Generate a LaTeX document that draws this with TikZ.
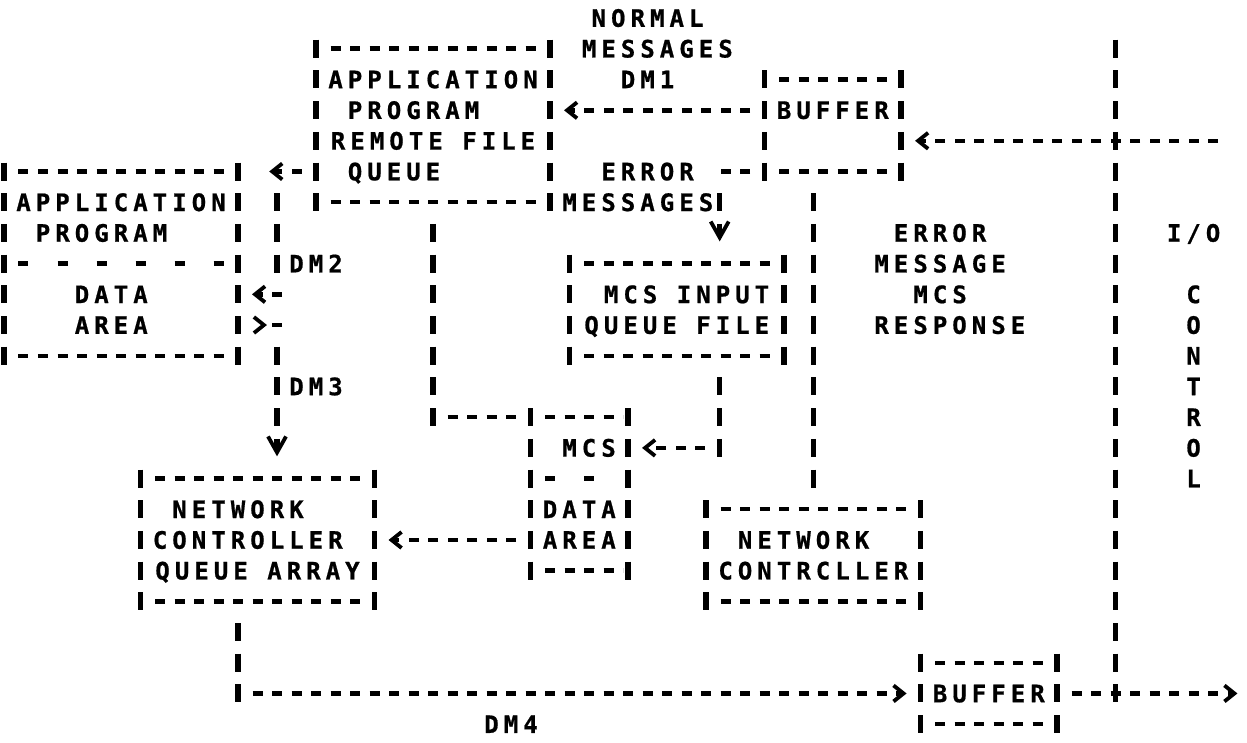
\documentclass[tikz,border=0pt]{standalone}
\usepackage{fontspec}
\usepackage{tikz}
\usetikzlibrary{arrows.meta,calc,fit}
\newfontfamily\lpfont[LetterSpace=21,BoldFeatures={FakeBold=0.8}]{DejaVu Sans Mono}
\tikzset{
  ltip/.tip={Straight Barb[length=5pt,width=8pt,line width=1.9pt]},
  vtip/.tip={Straight Barb[length=8pt,width=9pt,line width=1.9pt]},
  hline/.style={draw,line width=2.2pt,dash pattern=on 5pt off 4.75pt,dash phase=5pt,shorten <=2.5pt,shorten >=2.5pt},
  vline/.style={draw,line width=2.6pt,dash pattern=on 9pt off 6.35pt,shorten <=-4.5pt,shorten >=-4.5pt},
  vconn/.style={draw,line width=2.6pt,dash pattern=on 9pt off 6.35pt,dash phase=12.175pt,shorten <=7.675pt,shorten >=7.675pt},
  sepline/.style={draw,line width=2.2pt,dash pattern=on 5pt off 14.5pt,dash phase=12.25pt,shorten >=5pt},
  box/.style={inner sep=0pt,outer sep=0pt,append after command={
      (\tikzlastnode.north west) edge[hline] (\tikzlastnode.north east)
      (\tikzlastnode.south west) edge[hline] (\tikzlastnode.south east)
      (\tikzlastnode.north west) edge[vline] (\tikzlastnode.south west)
      (\tikzlastnode.north east) edge[vline] (\tikzlastnode.south east)}},
  lbl/.style={font=\lpfont\bfseries\fontsize{12pt}{13pt}\selectfont,inner sep=0pt,anchor=base,yshift=-4.4pt}
}
\begin{document}
\begin{tikzpicture}[x=9.75pt,y=-15.35pt]
\useasboundingbox (-0.205,-0.586) rectangle (63.74,23.583);
\node[box,fit={(16,1) (28,6)}] (appbox) {};
\node[box,fit={(0,5) (12,11)}] (leftbox) {};
\node[box,fit={(39,2) (46,5)}] (bufup) {};
\node[box,fit={(29,8) (40,11)}] (mcsin) {};
\node[box,fit={(27,13) (32,18)}] (mcsbox) {};
\node[box,fit={(7,15) (19,19)}] (ncq) {};
\node[box,fit={(36,16) (47,19)}] (ncbox) {};
\node[box,fit={(47,21) (54,23)}] (buflo) {};
\draw[sepline] ($(leftbox.north west)+(0,3)$) -- ($(leftbox.north east)+(0,3)$);
\draw[sepline] ($(mcsbox.north west)+(0,2)$) -- ($(mcsbox.north east)+(0,2)$);

\node[lbl] (apptxt1) at (22,2) {APPLICATION};
\node[lbl] (apptxt2) at (21,3) {PROGRAM};
\node[lbl] (apptxt3) at (22,4) {REMOTE FILE};
\node[lbl] (apptxt4) at (20,5) {QUEUE};
\node[lbl] (lefttxt1) at (6,6) {APPLICATION};
\node[lbl] (lefttxt2) at (5,7) {PROGRAM};
\node[lbl] (lefttxt3) at (5.5,9) {DATA};
\node[lbl] (lefttxt4) at (5.5,10) {AREA};
\node[lbl] (bufuptxt) at (42.5,3) {BUFFER};
\node[lbl] (mcsintxt1) at (35,9) {MCS INPUT};
\node[lbl] (mcsintxt2) at (34.5,10) {QUEUE FILE};
\node[lbl] (mcstxt) at (30,14) {MCS};
\node[lbl] (mcsdata) at (29.5,16) {DATA};
\node[lbl] (mcsarea) at (29.5,17) {AREA};
\node[lbl] (ncqtxt1) at (12,16) {NETWORK};
\node[lbl] (ncqtxt2) at (12.5,17) {CONTROLLER};
\node[lbl] (ncqtxt3) at (13,18) {QUEUE ARRAY};
\node[lbl] (nctxt1) at (41,17) {NETWORK};
\node[lbl] (nctxt2) at (41.5,18) {CONTRCLLER};
\node[lbl] (buflotxt) at (50.5,22) {BUFFER};

\node[lbl] (normal1) at (33,0) {NORMAL};
\node[lbl] (normal2) at (33.5,1) {MESSAGES};
\node[lbl] (dm1) at (33,2) {DM1};
\node[lbl] (error1) at (33,5) {ERROR};
\node[lbl] (error2) at (32.5,6) {MESSAGES};
\node[lbl] (dm2) at (16,8) {DM2};
\node[lbl] (dm3) at (16,12) {DM3};
\node[lbl] (dm4) at (26,23) {DM4};
\node[lbl] (resp1) at (48,7) {ERROR};
\node[lbl] (resp2) at (48,8) {MESSAGE};
\node[lbl] (resp3) at (48,9) {MCS};
\node[lbl] (resp4) at (48.5,10) {RESPONSE};
\node[lbl] (io) at (61,7) {I/O};
\foreach \ch [count=\i from 9] in {C,O,N,T,R,O,L}
  \node[lbl] (ctl\i) at (61,\i) {\ch};

\coordinate (dmtop) at (14,5);
\coordinate (dm2tip) at (13.6,5);
\coordinate (dm2in) at (14,9);
\coordinate (dm3out) at (14,10);
\coordinate (errturn) at (36.7,5);
\coordinate (ioin) at (63,4);
\coordinate (ioout) at (63.25,22);
\coordinate (iotop) at (57,1);
\coordinate (iobot) at (57,22);
\coordinate (dm4top) at ($(ncq.south west)!5/12!(ncq.south east)$);

\draw[vline] (iotop) -- (iobot);
\draw[hline,-{ltip},shorten >=7pt] (bufup.west |- bufuptxt) -- (bufuptxt -| appbox.east);
\draw[hline,-{ltip},shorten >=7pt] (ioin) -- (ioin -| bufup.east);
\draw[hline,shorten >=0pt] (bufup.south west) -- (errturn);
\draw[vconn,-{vtip},shorten >=11.1pt] (errturn) -- (errturn |- mcsin.north);
\draw[vconn,shorten >=-4.5pt] (appbox.south) -- (appbox.south |- mcsbox.north);
\draw[hline] (appbox.south |- mcsbox.north) -- (mcsbox.north west);
\draw[vconn,shorten >=-4.5pt] (errturn |- mcsin.south) -- (errturn |- mcstxt);
\draw[hline,-{ltip},shorten >=7pt] (errturn |- mcstxt) -- (mcstxt -| mcsbox.east);
\draw[vconn] (ncbox.north |- bufup.south) -- (ncbox.north);
\draw[hline,-{ltip},shorten >=7pt] (mcsarea -| mcsbox.west) -- (mcsarea -| ncq.east);
\draw[hline,-{ltip},shorten >=0pt] (dmtop -| appbox.west) -- (dm2tip);
\draw[vconn] (dmtop) -- (dm2in);
\draw[hline,dash phase=0pt,shorten <=-2.5pt,-{ltip},shorten >=7pt] (dm2in) -- (dm2in -| leftbox.east);
\draw[hline,dash phase=0pt,shorten <=-2.5pt,-{ltip[reversed]},shorten >=7pt] (dm3out) -- (dm3out -| leftbox.east);
\draw[vconn,-{vtip},shorten >=11.1pt] (dm3out) -- (dm3out |- ncq.north);
\draw[vconn,shorten >=-4.5pt] (dm4top) -- (dm4top |- buflo.west);
\draw[hline,-{ltip},shorten >=7pt] (dm4top |- buflo.west) -- (buflo.west);
\draw[hline,-{ltip},shorten >=0pt] (buflo.east) -- (ioout);
\end{tikzpicture}
\end{document}
